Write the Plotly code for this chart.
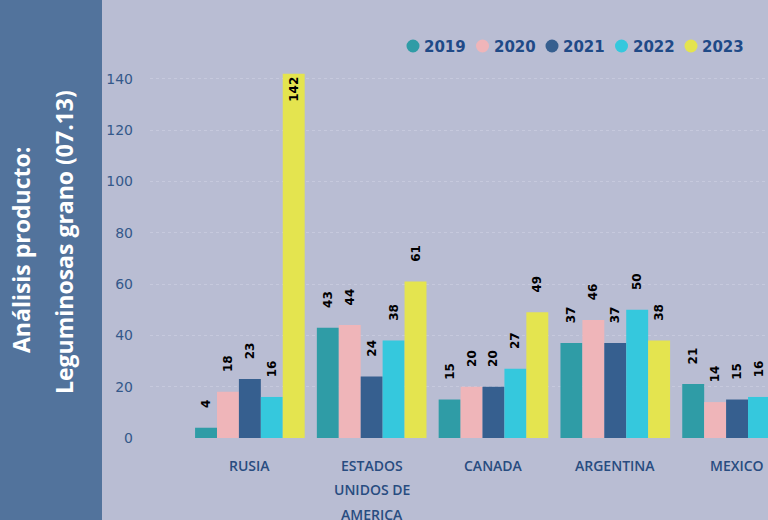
import plotly.graph_objects as go

categories = ["RUSIA", "ESTADOS<br>UNIDOS DE<br>AMERICA", "CANADA", "ARGENTINA", "MEXICO"]
years = ["2019", "2020", "2021", "2022", "2023"]
v2019 = [4, 43, 15, 37, 21]
v2020 = [18, 44, 20, 46, 14]
v2021 = [23, 24, 20, 37, 15]
v2022 = [16, 38, 27, 50, 16]
v2023 = [142, 61, 49, 38, None]
y_ticks = [0, 20, 40, 60, 80, 100, 120, 140]

series = [v2019, v2020, v2021, v2022, v2023]
colors = ["#2f9ca6", "#efb5b9", "#365f8f", "#35c8dd", "#e4e44f"]

W, H = 768, 520
ML, MR, MT, MB = 150, 0, 66, 82
PW, PH = W - ML - MR, H - MT - MB
YMAX = 145


def px_x(p):
    return (p - ML) / PW


def px_y(p):
    return (H - MB - p) / PH


fig = go.Figure()
pad = "\u00a0" * 4
lblfont = dict(family="DejaVu Sans", size=12, color="black", weight="bold")
for yr, vals, col in zip(years, series, colors):
    pos = ["inside" if (v is not None and v > 140) else "outside" for v in vals]
    txt = []
    for v, p in zip(vals, pos):
        if v is None:
            txt.append("")
        elif p == "inside":
            txt.append(str(v))
        else:
            txt.append(pad + str(v))
    fig.add_trace(go.Bar(
        x=categories, y=vals, name=yr, marker=dict(color=col, line=dict(width=0)),
        text=txt, textposition=pos, textangle=-90, insidetextanchor="end",
        constraintext="none",
        textfont=lblfont, insidetextfont=lblfont, outsidetextfont=lblfont,
        cliponaxis=False, showlegend=False,
    ))

shapes = []
annotations = []

# left strip
shapes.append(dict(type="rect", xref="paper", yref="paper",
                   x0=px_x(-2), x1=px_x(102), y0=px_y(H + 5), y1=px_y(-5),
                   fillcolor="#52739c", line=dict(width=0), layer="below"))
side_font = dict(family="Open Sans", size=23, color="white", weight="bold")
annotations.append(dict(xref="paper", yref="paper", x=px_x(21), y=px_y(250),
                        text="Análisis producto:", textangle=-90, showarrow=False,
                        font=side_font, xanchor="center", yanchor="middle"))
annotations.append(dict(xref="paper", yref="paper", x=px_x(64), y=px_y(242),
                        text="Leguminosas grano (07.13)", textangle=-90, showarrow=False,
                        font=side_font, xanchor="center", yanchor="middle"))

# legend (manual, circles + text)
for i, (yr, col) in enumerate(zip(years, colors)):
    cx = 413 + i * 69.5
    cy = 46
    r = 6.5
    shapes.append(dict(type="circle", xref="paper", yref="paper",
                       x0=px_x(cx - r), x1=px_x(cx + r), y0=px_y(cy + r), y1=px_y(cy - r),
                       fillcolor=col, line=dict(width=0)))
    annotations.append(dict(xref="paper", yref="paper", x=px_x(cx + 9), y=px_y(cy + 1),
                            text=yr, showarrow=False, xanchor="left", yanchor="middle",
                            font=dict(family="DejaVu Sans", size=15, color="#1f4a87", weight="bold")))

# category labels (multi-line)
for cat in categories:
    for j, line in enumerate(cat.split("<br>")):
        annotations.append(dict(xref="x", yref="paper", x=cat, y=0,
                                yshift=-27 - j * 24.5, text=line, showarrow=False,
                                xanchor="center", yanchor="middle",
                                font=dict(family="Open Sans", size=14, color="#284c80", weight=600)))

fig.update_layout(
    width=W, height=H,
    margin=dict(l=ML, r=MR, t=MT, b=MB),
    paper_bgcolor="#b9bdd3", plot_bgcolor="#b9bdd3",
    barmode="group", bargap=0.1, bargroupgap=0,
    shapes=shapes, annotations=annotations,
    xaxis=dict(type="category", range=[-0.82, 4.254], showticklabels=False,
               showgrid=False, zeroline=False, showline=False, ticks=""),
    yaxis=dict(range=[0, YMAX], tickvals=y_ticks, showgrid=True,
               gridcolor="#c6c9dd", griddash="dot", gridwidth=1,
               zeroline=False, showline=False, ticks="", ticklabelstandoff=16,
               tickfont=dict(family="DejaVu Sans", size=14, color="#34588a")),
    showlegend=False,
)

fig.write_html("out.html", config={"displayModeBar": False},
               post_script="document.body.style.margin='0';document.body.style.overflow='hidden';")
